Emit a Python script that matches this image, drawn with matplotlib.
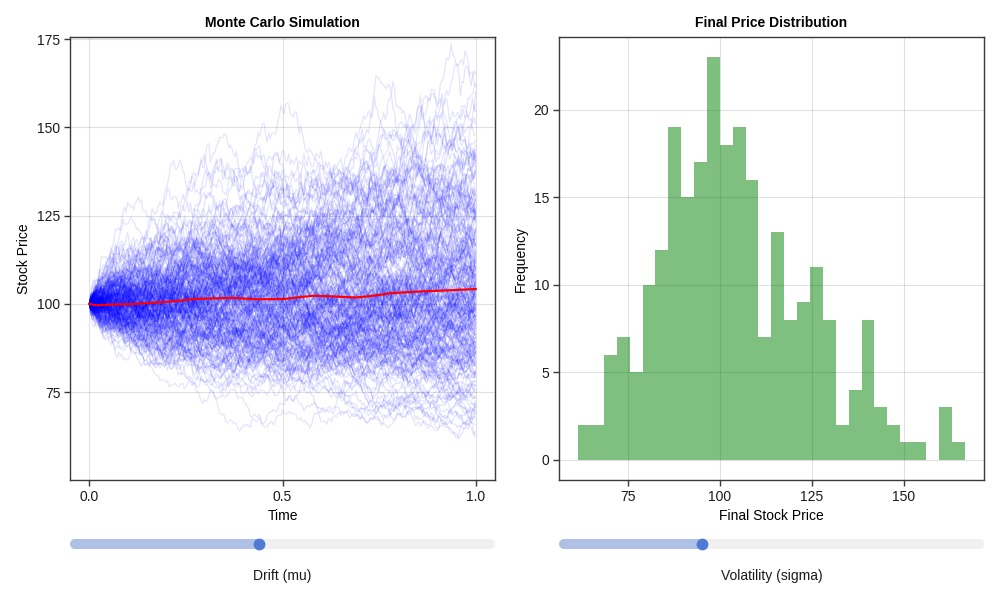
import numpy as np
import matplotlib
matplotlib.use("Agg")
import matplotlib.pyplot as plt
from matplotlib.collections import LineCollection

plt.rcParams['font.family'] = ['Liberation Sans', 'DejaVu Sans']
plt.rcParams['font.size'] = 10

# ---------------- data ----------------
# Final price histogram (30 equal-width bins)
hist_min = 61.4
hist_max = 166.6
hist_counts = [2, 2, 6, 7, 5, 10, 12, 19, 15, 17, 23, 18, 19, 16, 7,
               13, 8, 9, 11, 8, 2, 4, 8, 3, 2, 1, 1, 0, 3, 1]

# Mean path (red line)
mean_t = [0, 0.017, 0.06, 0.104, 0.147, 0.216, 0.276, 0.371, 0.432, 0.505,
          0.579, 0.63, 0.691, 0.743, 0.777, 0.855, 0.924, 1.0]
mean_price = [100, 99.6, 99.8, 99.9, 100.2, 100.7, 101.4, 101.7, 101.3, 101.4,
              102.3, 102.1, 101.8, 102.4, 103.0, 103.5, 103.8, 104.2]

start_price = 100.0
volatility = 0.2
n_steps = 252

# slider positions (fraction of track)
drift_slider = 0.443
vol_slider = 0.333

left_xticks = [0.0, 0.5, 1.0]
left_xticklabels = ["0.0", "0.5", "1.0"]
left_yticks = [75, 100, 125, 150, 175]
right_xticks = [75, 100, 125, 150]
right_yticks = [0, 5, 10, 15, 20]

# ---------------- individual simulated paths ----------------
# The individual paths cannot be read from the picture; they are drawn as
# Brownian bridges (seeded noise) from the start price to final prices that
# reproduce the histogram above.
edges = np.linspace(hist_min, hist_max, len(hist_counts) + 1)
finals = []
for lo, hi, c in zip(edges[:-1], edges[1:], hist_counts):
    for k in range(c):
        finals.append(lo + (k + 0.5) / c * (hi - lo))
finals = np.array(finals)

rng = np.random.default_rng(7)
t = np.linspace(0, 1, n_steps + 1)
dW = rng.normal(0, np.sqrt(1.0 / n_steps), size=(len(finals), n_steps))
W = np.concatenate([np.zeros((len(finals), 1)), np.cumsum(dW, axis=1)], axis=1)
bridge = W - t[None, :] * W[:, -1:]
logp = np.log(start_price) + t[None, :] * np.log(finals / start_price)[:, None] + volatility * bridge
paths = np.exp(logp)

# ---------------- figure ----------------
fig = plt.figure(figsize=(10, 6), dpi=100)
W_, H_ = 1000, 600

def px_axes(x0, y0, x1, y1):
    return fig.add_axes([x0 / W_, 1 - y1 / H_, (x1 - x0) / W_, (y1 - y0) / H_])

ax1 = px_axes(70, 37, 495, 480)
ax2 = px_axes(558.7, 37, 984, 480)

spine_color = '#3a3a3a'

for ax in (ax1, ax2):
    ax.set_axisbelow(True)
    ax.grid(True, color='black', alpha=0.12, linewidth=0.75)
    for s in ax.spines.values():
        s.set_color(spine_color)
        s.set_linewidth(1.0)
    ax.tick_params(direction='out', length=4, width=1.0, color=spine_color,
                   labelsize=10, pad=3, labelcolor='#1a1a1a')

# Left: Monte Carlo paths
segs = [np.column_stack([t, p]) for p in paths]
lc = LineCollection(segs, colors=[(0, 0, 1, 0.11)], linewidths=0.85)
ax1.add_collection(lc)
ax1.plot(mean_t, mean_price, color='red', linewidth=1.6)
ax1.set_xlim(-0.05, 1.05)
ax1.set_ylim(50.1, 175.6)
ax1.set_xticks(left_xticks)
ax1.set_xticklabels(left_xticklabels)
ax1.set_yticks(left_yticks)
ax1.set_title("Monte Carlo Simulation", fontweight='bold', fontsize=10, pad=7)
ax1.set_xlabel("Time", fontsize=10, labelpad=4)
ax1.set_ylabel("Stock Price", fontsize=10, labelpad=4)

# Right: histogram
bw = edges[1] - edges[0]
ax2.bar(edges[:-1], hist_counts, width=bw, align='edge', color='green',
        alpha=0.5, linewidth=0)
ax2.set_xlim(56.1, 171.9)
ax2.set_ylim(-1.15, 24.15)
ax2.set_xticks(right_xticks)
ax2.set_yticks(right_yticks)
ax2.set_title("Final Price Distribution", fontweight='bold', fontsize=10, pad=7)
ax2.set_xlabel("Final Stock Price", fontsize=10, labelpad=4)
ax2.set_ylabel("Frequency", fontsize=10, labelpad=4)

# Sliders (overlay in pixel coordinates)
ov = fig.add_axes([0, 0, 1, 1])
ov.set_xlim(0, W_)
ov.set_ylim(H_, 0)
ov.axis('off')
ov.patch.set_alpha(0)

accent = (79 / 255, 122 / 255, 214 / 255)
accent_dim = (174 / 255, 192 / 255, 230 / 255)
inactive = (0.94, 0.94, 0.94)
track_lw = 10 * 0.72

def slider(x0, x1, y, frac, label):
    a, b = x0 + 5, x1 - 5
    k = a + frac * (b - a)
    ov.plot([a, b], [y, y], color=inactive, linewidth=track_lw, solid_capstyle='round')
    ov.plot([a, k], [y, y], color=accent_dim, linewidth=track_lw, solid_capstyle='round')
    ov.plot([k], [y], 'o', color=accent, markersize=8.5, markeredgewidth=0)
    ov.text((x0 + x1) / 2, 576, label, ha='center', va='center', fontsize=10,
            color='#1a1a1a')

slider(70, 495, 544, drift_slider, "Drift (mu)")
slider(558.7, 984, 544, vol_slider, "Volatility (sigma)")

fig.savefig("out.png", dpi=100)
